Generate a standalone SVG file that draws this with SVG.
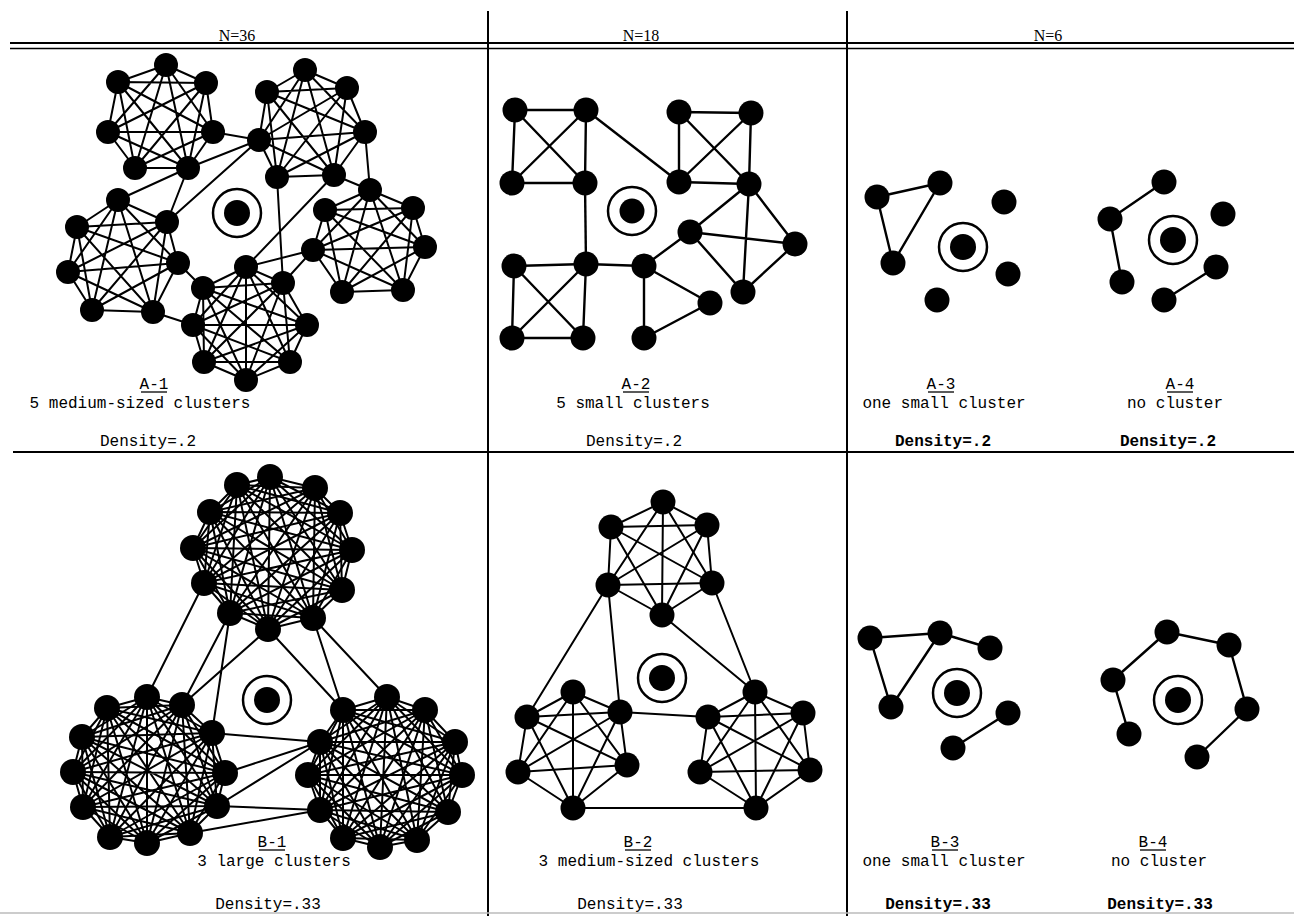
<svg xmlns="http://www.w3.org/2000/svg" width="1294" height="916" viewBox="0 0 1294 916">
<style>
.bg{fill:#fff}
.rule{stroke:#000;fill:none}
.e{stroke:#000;fill:none;stroke-width:2;stroke-linejoin:round}
.ed{stroke:#000;fill:none;stroke-width:2.4}
.n circle{fill:#000}
.n circle.ring{fill:none;stroke:#000;stroke-width:2.5}
.hd{font-family:"Liberation Serif",serif;font-size:16px;text-anchor:middle;fill:#000}
.t{font-family:"Liberation Mono",monospace;font-size:16px;text-anchor:middle;fill:#000}
.tb{font-family:"Liberation Mono",monospace;font-size:16px;text-anchor:middle;fill:#000;font-weight:bold}
.ul{stroke:#000;stroke-width:1.3}
</style>
<rect class="bg" x="0" y="0" width="1294" height="916"/>
<g id="frame">
<line class="rule" x1="10" y1="43" x2="1294" y2="43" stroke-width="2.2"/>
<line class="rule" x1="10" y1="48.5" x2="1294" y2="48.5" stroke-width="1.6"/>
<line class="rule" x1="488" y1="11" x2="488" y2="916" stroke-width="2"/>
<line class="rule" x1="847" y1="11" x2="847" y2="916" stroke-width="2"/>
<line class="rule" x1="13" y1="452" x2="1294" y2="452" stroke-width="2"/>
<line x1="0" y1="913" x2="1294" y2="913" stroke="#bbb" stroke-width="1.5"/>
<text class="hd" x="237" y="41">N=36</text>
<text class="hd" x="641" y="41">N=18</text>
<text class="hd" x="1048" y="41">N=6</text>
</g>
<g id="connectors">
<g id="a1-edges" class="e">
<polygon points="166,65 206,83 213,132 188,168 135,168 108,132 118,82"/>
<polygon points="166,65 213,132 135,168 118,82 206,83 188,168 108,132"/>
<polygon points="166,65 188,168 118,82 213,132 108,132 206,83 135,168"/>
<polygon points="305,70 347,88 365,132 334,175 277,177 259,140 267,92"/>
<polygon points="305,70 365,132 277,177 267,92 347,88 334,175 259,140"/>
<polygon points="305,70 334,175 267,92 365,132 259,140 347,88 277,177"/>
<polygon points="118,200 167,222 178,263 153,312 92,310 68,272 77,227"/>
<polygon points="118,200 178,263 92,310 77,227 167,222 153,312 68,272"/>
<polygon points="118,200 153,312 77,227 178,263 68,272 167,222 92,310"/>
<polygon points="370,190 413,208 425,247 403,290 342,292 313,250 325,210"/>
<polygon points="370,190 425,247 342,292 325,210 413,208 403,290 313,250"/>
<polygon points="370,190 403,290 325,210 425,247 313,250 413,208 342,292"/>
<polygon points="246,267 283,283 307,325 290,362 246,380 204,362 193,325 203,288"/>
<polygon points="246,267 307,325 246,380 193,325"/>
<polygon points="283,283 290,362 204,362 203,288"/>
<polygon points="246,267 290,362 193,325 283,283 246,380 203,288 307,325 204,362"/>
<path d="M246,267L246,380M283,283L204,362M307,325L193,325M290,362L203,288"/>
<path d="M213,132L259,140M188,168L259,140M188,168L118,200M188,168L167,222M167,222L259,140M277,177L283,283M334,175L246,267M334,175L370,190M365,132L370,190M313,250L283,283M313,250L246,267M178,263L203,288M153,312L193,325"/>
</g>
<g id="a2-edges" class="ed">
<path d="M515,110L586,110M515,110L512,183M586,110L585,183M512,183L585,183M515,110L585,183M586,110L512,183"/>
<path d="M586,110L679,182"/>
<path d="M679,112L751,113M679,112L679,182M751,113L749,184M679,182L749,184M679,112L749,184M751,113L679,182"/>
<path d="M585,183L586,264"/>
<path d="M514,266L586,264M514,266L512,338M586,264L583,338M512,338L583,338M514,266L583,338M586,264L512,338"/>
<path d="M586,264L644,266M644,266L690,232M644,266L710,303M644,266L644,338M644,338L710,303"/>
<path d="M690,232L749,184M690,232L795,244M690,232L743,292M749,184L795,244M749,184L743,292M795,244L743,292"/>
</g>
<g id="a3-edges" class="ed">
<path d="M877,197L940,183M877,197L893,263M940,183L893,263"/>
</g>
<g id="a4-edges" class="ed">
<path d="M1164,182L1110,219M1110,219L1122,282M1216,267L1164,300"/>
</g>
<g id="b1-edges" class="e">
<polygon points="270,477 315,488 340,513 352,550 342,590 313,618 268,629 230,613 204,583 193,548 210,512 237,485"/>
<polygon points="270,477 340,513 342,590 268,629 204,583 210,512"/>
<polygon points="315,488 352,550 313,618 230,613 193,548 237,485"/>
<polygon points="270,477 352,550 268,629 193,548"/>
<polygon points="315,488 342,590 230,613 210,512"/>
<polygon points="340,513 313,618 204,583 237,485"/>
<polygon points="270,477 342,590 204,583"/>
<polygon points="315,488 313,618 193,548"/>
<polygon points="340,513 268,629 210,512"/>
<polygon points="352,550 230,613 237,485"/>
<polygon points="270,477 313,618 210,512 352,550 204,583 315,488 268,629 237,485 342,590 193,548 340,513 230,613"/>
<path d="M270,477L268,629M315,488L230,613M340,513L204,583M352,550L193,548M342,590L210,512M313,618L237,485"/>
<polygon points="147,697 182,705 212,733 225,773 217,806 190,833 147,843 110,837 83,807 73,772 82,737 107,708"/>
<polygon points="147,697 212,733 217,806 147,843 83,807 82,737"/>
<polygon points="182,705 225,773 190,833 110,837 73,772 107,708"/>
<polygon points="147,697 225,773 147,843 73,772"/>
<polygon points="182,705 217,806 110,837 82,737"/>
<polygon points="212,733 190,833 83,807 107,708"/>
<polygon points="147,697 217,806 83,807"/>
<polygon points="182,705 190,833 73,772"/>
<polygon points="212,733 147,843 82,737"/>
<polygon points="225,773 110,837 107,708"/>
<polygon points="147,697 190,833 82,737 225,773 83,807 182,705 147,843 107,708 217,806 73,772 212,733 110,837"/>
<path d="M147,697L147,843M182,705L110,837M212,733L83,807M225,773L73,772M217,806L82,737M190,833L107,708"/>
<polygon points="387,697 425,710 455,742 462,775 448,812 417,840 380,847 343,838 320,810 308,775 320,742 343,710"/>
<polygon points="387,697 455,742 448,812 380,847 320,810 320,742"/>
<polygon points="425,710 462,775 417,840 343,838 308,775 343,710"/>
<polygon points="387,697 462,775 380,847 308,775"/>
<polygon points="425,710 448,812 343,838 320,742"/>
<polygon points="455,742 417,840 320,810 343,710"/>
<polygon points="387,697 448,812 320,810"/>
<polygon points="425,710 417,840 308,775"/>
<polygon points="455,742 380,847 320,742"/>
<polygon points="462,775 343,838 343,710"/>
<polygon points="387,697 417,840 320,742 462,775 320,810 425,710 380,847 343,710 448,812 308,775 455,742 343,838"/>
<path d="M387,697L380,847M425,710L343,838M455,742L320,810M462,775L308,775M448,812L320,742M417,840L343,710"/>
<path d="M204,583L147,697M230,613L182,705M230,613L212,733M268,629L182,705M268,629L343,710M313,618L343,710M313,618L387,697M212,733L320,742M225,773L320,742M217,806L320,742M217,806L320,810M190,833L320,810"/>
</g>
<g id="b2-edges" class="e">
<polygon points="663,502 707,525 712,583 662,615 608,585 611,527"/>
<polygon points="663,502 712,583 608,585"/>
<polygon points="707,525 662,615 611,527"/>
<path d="M663,502L662,615M707,525L608,585M712,583L611,527"/>
<polygon points="573,692 620,712 627,765 573,808 518,772 527,717"/>
<polygon points="573,692 627,765 518,772"/>
<polygon points="620,712 573,808 527,717"/>
<path d="M573,692L573,808M620,712L518,772M627,765L527,717"/>
<polygon points="755,692 803,713 810,770 756,808 700,772 708,717"/>
<polygon points="755,692 810,770 700,772"/>
<polygon points="803,713 756,808 708,717"/>
<path d="M755,692L756,808M803,713L700,772M810,770L708,717"/>
<path d="M608,585L527,717M608,585L620,712M662,615L755,692M712,583L755,692M620,712L708,717M573,808L756,808"/>
</g>
<g id="b3-edges" class="ed">
<path d="M870,638L940,633M870,638L891,707M940,633L891,707M940,633L990,648M1008,713L953,748"/>
</g>
<g id="b4-edges" class="ed">
<path d="M1167,632L1229,645M1167,632L1113,680M1113,680L1129,734M1229,645L1247,709M1247,709L1197,757"/>
</g>
</g>
<g id="a1-nodes" class="n">
<g id="a1-n01"><circle cx="166" cy="65" r="12"/></g>
<g id="a1-n02"><circle cx="206" cy="83" r="12"/></g>
<g id="a1-n03"><circle cx="213" cy="132" r="12"/></g>
<g id="a1-n04"><circle cx="188" cy="168" r="12"/></g>
<g id="a1-n05"><circle cx="135" cy="168" r="12"/></g>
<g id="a1-n06"><circle cx="108" cy="132" r="12"/></g>
<g id="a1-n07"><circle cx="118" cy="82" r="12"/></g>
<g id="a1-n08"><circle cx="305" cy="70" r="12"/></g>
<g id="a1-n09"><circle cx="347" cy="88" r="12"/></g>
<g id="a1-n10"><circle cx="365" cy="132" r="12"/></g>
<g id="a1-n11"><circle cx="334" cy="175" r="12"/></g>
<g id="a1-n12"><circle cx="277" cy="177" r="12"/></g>
<g id="a1-n13"><circle cx="259" cy="140" r="12"/></g>
<g id="a1-n14"><circle cx="267" cy="92" r="12"/></g>
<g id="a1-n15"><circle cx="118" cy="200" r="12"/></g>
<g id="a1-n16"><circle cx="167" cy="222" r="12"/></g>
<g id="a1-n17"><circle cx="178" cy="263" r="12"/></g>
<g id="a1-n18"><circle cx="153" cy="312" r="12"/></g>
<g id="a1-n19"><circle cx="92" cy="310" r="12"/></g>
<g id="a1-n20"><circle cx="68" cy="272" r="12"/></g>
<g id="a1-n21"><circle cx="77" cy="227" r="12"/></g>
<g id="a1-n22"><circle cx="370" cy="190" r="12"/></g>
<g id="a1-n23"><circle cx="413" cy="208" r="12"/></g>
<g id="a1-n24"><circle cx="425" cy="247" r="12"/></g>
<g id="a1-n25"><circle cx="403" cy="290" r="12"/></g>
<g id="a1-n26"><circle cx="342" cy="292" r="12"/></g>
<g id="a1-n27"><circle cx="313" cy="250" r="12"/></g>
<g id="a1-n28"><circle cx="325" cy="210" r="12"/></g>
<g id="a1-n29"><circle cx="246" cy="267" r="12"/></g>
<g id="a1-n30"><circle cx="283" cy="283" r="12"/></g>
<g id="a1-n31"><circle cx="307" cy="325" r="12"/></g>
<g id="a1-n32"><circle cx="290" cy="362" r="12"/></g>
<g id="a1-n33"><circle cx="246" cy="380" r="12"/></g>
<g id="a1-n34"><circle cx="204" cy="362" r="12"/></g>
<g id="a1-n35"><circle cx="193" cy="325" r="12"/></g>
<g id="a1-n36"><circle cx="203" cy="288" r="12"/></g>
<g id="a1-ego"><circle class="ring" cx="237" cy="213" r="24"/><circle cx="237" cy="213" r="13"/></g>
</g>
<g id="a2-nodes" class="n">
<g id="a2-n01"><circle cx="515" cy="110" r="12.5"/></g>
<g id="a2-n02"><circle cx="586" cy="110" r="12.5"/></g>
<g id="a2-n03"><circle cx="512" cy="183" r="12.5"/></g>
<g id="a2-n04"><circle cx="585" cy="183" r="12.5"/></g>
<g id="a2-n05"><circle cx="679" cy="112" r="12.5"/></g>
<g id="a2-n06"><circle cx="751" cy="113" r="12.5"/></g>
<g id="a2-n07"><circle cx="679" cy="182" r="12.5"/></g>
<g id="a2-n08"><circle cx="749" cy="184" r="12.5"/></g>
<g id="a2-n09"><circle cx="690" cy="232" r="12.5"/></g>
<g id="a2-n10"><circle cx="795" cy="244" r="12.5"/></g>
<g id="a2-n11"><circle cx="743" cy="292" r="12.5"/></g>
<g id="a2-n12"><circle cx="514" cy="266" r="12.5"/></g>
<g id="a2-n13"><circle cx="586" cy="264" r="12.5"/></g>
<g id="a2-n14"><circle cx="644" cy="266" r="12.5"/></g>
<g id="a2-n15"><circle cx="710" cy="303" r="12.5"/></g>
<g id="a2-n16"><circle cx="512" cy="338" r="12.5"/></g>
<g id="a2-n17"><circle cx="583" cy="338" r="12.5"/></g>
<g id="a2-n18"><circle cx="644" cy="338" r="12.5"/></g>
<g id="a2-ego"><circle class="ring" cx="632" cy="211" r="24"/><circle cx="632" cy="211" r="12.5"/></g>
</g>
<g id="a3-nodes" class="n">
<g id="a3-n1"><circle cx="877" cy="197" r="12.5"/></g>
<g id="a3-n2"><circle cx="940" cy="183" r="12.5"/></g>
<g id="a3-n3"><circle cx="893" cy="263" r="12.5"/></g>
<g id="a3-n4"><circle cx="1004" cy="202" r="12.5"/></g>
<g id="a3-n5"><circle cx="1008" cy="274" r="12.5"/></g>
<g id="a3-n6"><circle cx="937" cy="300" r="12.5"/></g>
<g id="a3-ego"><circle class="ring" cx="963" cy="247" r="24"/><circle cx="963" cy="247" r="13"/></g>
</g>
<g id="a4-nodes" class="n">
<g id="a4-n1"><circle cx="1164" cy="182" r="12.5"/></g>
<g id="a4-n2"><circle cx="1110" cy="219" r="12.5"/></g>
<g id="a4-n3"><circle cx="1223" cy="214" r="12.5"/></g>
<g id="a4-n4"><circle cx="1122" cy="282" r="12.5"/></g>
<g id="a4-n5"><circle cx="1216" cy="267" r="12.5"/></g>
<g id="a4-n6"><circle cx="1164" cy="300" r="12.5"/></g>
<g id="a4-ego"><circle class="ring" cx="1173" cy="240" r="24"/><circle cx="1173" cy="240" r="13"/></g>
</g>
<g id="b1-nodes" class="n">
<g id="b1-n01"><circle cx="270" cy="477" r="13"/></g>
<g id="b1-n02"><circle cx="315" cy="488" r="13"/></g>
<g id="b1-n03"><circle cx="340" cy="513" r="13"/></g>
<g id="b1-n04"><circle cx="352" cy="550" r="13"/></g>
<g id="b1-n05"><circle cx="342" cy="590" r="13"/></g>
<g id="b1-n06"><circle cx="313" cy="618" r="13"/></g>
<g id="b1-n07"><circle cx="268" cy="629" r="13"/></g>
<g id="b1-n08"><circle cx="230" cy="613" r="13"/></g>
<g id="b1-n09"><circle cx="204" cy="583" r="13"/></g>
<g id="b1-n10"><circle cx="193" cy="548" r="13"/></g>
<g id="b1-n11"><circle cx="210" cy="512" r="13"/></g>
<g id="b1-n12"><circle cx="237" cy="485" r="13"/></g>
<g id="b1-n13"><circle cx="147" cy="697" r="13"/></g>
<g id="b1-n14"><circle cx="182" cy="705" r="13"/></g>
<g id="b1-n15"><circle cx="212" cy="733" r="13"/></g>
<g id="b1-n16"><circle cx="225" cy="773" r="13"/></g>
<g id="b1-n17"><circle cx="217" cy="806" r="13"/></g>
<g id="b1-n18"><circle cx="190" cy="833" r="13"/></g>
<g id="b1-n19"><circle cx="147" cy="843" r="13"/></g>
<g id="b1-n20"><circle cx="110" cy="837" r="13"/></g>
<g id="b1-n21"><circle cx="83" cy="807" r="13"/></g>
<g id="b1-n22"><circle cx="73" cy="772" r="13"/></g>
<g id="b1-n23"><circle cx="82" cy="737" r="13"/></g>
<g id="b1-n24"><circle cx="107" cy="708" r="13"/></g>
<g id="b1-n25"><circle cx="387" cy="697" r="13"/></g>
<g id="b1-n26"><circle cx="425" cy="710" r="13"/></g>
<g id="b1-n27"><circle cx="455" cy="742" r="13"/></g>
<g id="b1-n28"><circle cx="462" cy="775" r="13"/></g>
<g id="b1-n29"><circle cx="448" cy="812" r="13"/></g>
<g id="b1-n30"><circle cx="417" cy="840" r="13"/></g>
<g id="b1-n31"><circle cx="380" cy="847" r="13"/></g>
<g id="b1-n32"><circle cx="343" cy="838" r="13"/></g>
<g id="b1-n33"><circle cx="320" cy="810" r="13"/></g>
<g id="b1-n34"><circle cx="308" cy="775" r="13"/></g>
<g id="b1-n35"><circle cx="320" cy="742" r="13"/></g>
<g id="b1-n36"><circle cx="343" cy="710" r="13"/></g>
<g id="b1-ego"><circle class="ring" cx="267" cy="700" r="24"/><circle cx="267" cy="700" r="13"/></g>
</g>
<g id="b2-nodes" class="n">
<g id="b2-n01"><circle cx="663" cy="502" r="12.5"/></g>
<g id="b2-n02"><circle cx="707" cy="525" r="12.5"/></g>
<g id="b2-n03"><circle cx="712" cy="583" r="12.5"/></g>
<g id="b2-n04"><circle cx="662" cy="615" r="12.5"/></g>
<g id="b2-n05"><circle cx="608" cy="585" r="12.5"/></g>
<g id="b2-n06"><circle cx="611" cy="527" r="12.5"/></g>
<g id="b2-n07"><circle cx="573" cy="692" r="12.5"/></g>
<g id="b2-n08"><circle cx="620" cy="712" r="12.5"/></g>
<g id="b2-n09"><circle cx="627" cy="765" r="12.5"/></g>
<g id="b2-n10"><circle cx="573" cy="808" r="12.5"/></g>
<g id="b2-n11"><circle cx="518" cy="772" r="12.5"/></g>
<g id="b2-n12"><circle cx="527" cy="717" r="12.5"/></g>
<g id="b2-n13"><circle cx="755" cy="692" r="12.5"/></g>
<g id="b2-n14"><circle cx="803" cy="713" r="12.5"/></g>
<g id="b2-n15"><circle cx="810" cy="770" r="12.5"/></g>
<g id="b2-n16"><circle cx="756" cy="808" r="12.5"/></g>
<g id="b2-n17"><circle cx="700" cy="772" r="12.5"/></g>
<g id="b2-n18"><circle cx="708" cy="717" r="12.5"/></g>
<g id="b2-ego"><circle class="ring" cx="662" cy="678" r="24"/><circle cx="662" cy="678" r="13"/></g>
</g>
<g id="b3-nodes" class="n">
<g id="b3-n1"><circle cx="870" cy="638" r="12.5"/></g>
<g id="b3-n2"><circle cx="940" cy="633" r="12.5"/></g>
<g id="b3-n3"><circle cx="990" cy="648" r="12.5"/></g>
<g id="b3-n4"><circle cx="891" cy="707" r="12.5"/></g>
<g id="b3-n5"><circle cx="1008" cy="713" r="12.5"/></g>
<g id="b3-n6"><circle cx="953" cy="748" r="12.5"/></g>
<g id="b3-ego"><circle class="ring" cx="957" cy="693" r="24"/><circle cx="957" cy="693" r="13"/></g>
</g>
<g id="b4-nodes" class="n">
<g id="b4-n1"><circle cx="1167" cy="632" r="12.5"/></g>
<g id="b4-n2"><circle cx="1229" cy="645" r="12.5"/></g>
<g id="b4-n3"><circle cx="1113" cy="680" r="12.5"/></g>
<g id="b4-n4"><circle cx="1247" cy="709" r="12.5"/></g>
<g id="b4-n5"><circle cx="1129" cy="734" r="12.5"/></g>
<g id="b4-n6"><circle cx="1197" cy="757" r="12.5"/></g>
<g id="b4-ego"><circle class="ring" cx="1178" cy="700" r="24"/><circle cx="1178" cy="700" r="13"/></g>
</g>
<g id="labels">
<text class="t" x="154" y="389">A-1</text><line class="ul" x1="141" y1="392" x2="167" y2="392"/>
<text class="t" x="140" y="408">5 medium-sized clusters</text>
<text class="t" x="148" y="446">Density=.2</text>
<text class="t" x="636" y="389">A-2</text><line class="ul" x1="623" y1="392" x2="649" y2="392"/>
<text class="t" x="633" y="408">5 small clusters</text>
<text class="t" x="634" y="446">Density=.2</text>
<text class="t" x="941" y="389">A-3</text><line class="ul" x1="928" y1="392" x2="954" y2="392"/>
<text class="t" x="944" y="408">one small cluster</text>
<text class="tb" x="943" y="446">Density=.2</text>
<text class="t" x="1180" y="389">A-4</text><line class="ul" x1="1167" y1="392" x2="1193" y2="392"/>
<text class="t" x="1175" y="408">no cluster</text>
<text class="tb" x="1168" y="446">Density=.2</text>
<text class="t" x="272" y="847">B-1</text><line class="ul" x1="259" y1="850" x2="285" y2="850"/>
<text class="t" x="274" y="866">3 large clusters</text>
<text class="t" x="268" y="909">Density=.33</text>
<text class="t" x="638" y="847">B-2</text><line class="ul" x1="625" y1="850" x2="651" y2="850"/>
<text class="t" x="649" y="866">3 medium-sized clusters</text>
<text class="t" x="630" y="909">Density=.33</text>
<text class="t" x="945" y="847">B-3</text><line class="ul" x1="932" y1="850" x2="958" y2="850"/>
<text class="t" x="944" y="866">one small cluster</text>
<text class="tb" x="938" y="909">Density=.33</text>
<text class="t" x="1153" y="847">B-4</text><line class="ul" x1="1140" y1="850" x2="1166" y2="850"/>
<text class="t" x="1159" y="866">no cluster</text>
<text class="tb" x="1160" y="909">Density=.33</text>
</g>
</svg>
